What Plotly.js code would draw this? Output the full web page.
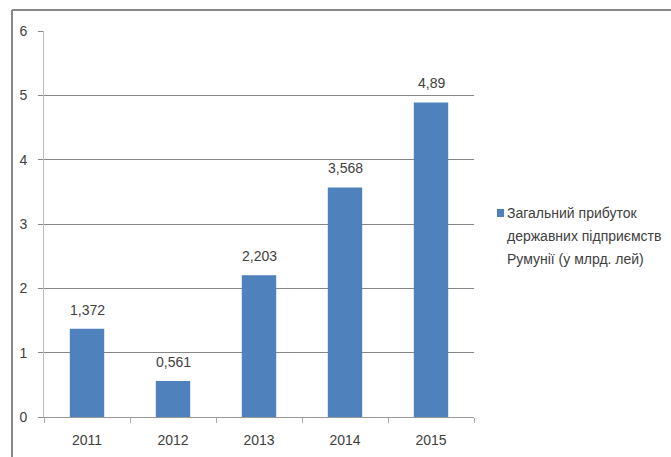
<!DOCTYPE html>
<html>
<head>
<meta charset="utf-8">
<script src="https://cdn.plot.ly/plotly-3.0.1.min.js"></script>
<style>html,body{margin:0;padding:0;background:#fff;}#chart{width:671px;height:457px;}</style>
</head>
<body>
<div id="chart"></div>
<script>
const years = ['2011', '2012', '2013', '2014', '2015'];
const profit = [1.372, 0.561, 2.203, 3.568, 4.89];
const profitLabels = ['1,372', '0,561', '2,203', '3,568', '4,89'];
const seriesName = ['Загальний прибуток', 'державних підприємств', 'Румунії (у млрд. лей)'];
const yTicks = [0, 1, 2, 3, 4, 5, 6];

const FONT = '"Liberation Sans", Arial, sans-serif';
const FS = 14;
const W = 671, H = 457;
const margin = {l: 44, r: 197, t: 31, b: 40};
const pw = W - margin.l - margin.r, ph = H - margin.t - margin.b;
const px = x => (x - margin.l) / pw;
const py = y => (H - margin.b - y) / ph;

const annotations = years.map((yr, i) => ({
  x: i, y: profit[i], xref: 'x', yref: 'y',
  text: profitLabels[i], showarrow: false, yanchor: 'bottom', yshift: 9,
  font: {family: FONT, size: FS, color: '#404040'}
}));
seriesName.forEach((line, i) => {
  annotations.push({
    x: px(505), y: py(213 + 23 * i), xref: 'paper', yref: 'paper',
    xanchor: 'left', yanchor: 'middle', showarrow: false, text: line,
    font: {family: FONT, size: FS, color: '#404040'}
  });
});

const data = [{
  type: 'bar', x: years, y: profit, name: seriesName.join(' '),
  marker: {color: '#4f81bd'}, width: 0.4, showlegend: false, hoverinfo: 'x+y'
}];

const layout = {
  width: W, height: H, margin: margin,
  paper_bgcolor: '#fff', plot_bgcolor: '#fff',
  font: {family: FONT, size: FS, color: '#404040'},
  showlegend: false,
  xaxis: {
    type: 'category', range: [-0.5, 4.5], autorange: false,
    showline: true, linecolor: '#999', linewidth: 1,
    ticks: 'outside', tickson: 'boundaries', ticklen: 5, tickcolor: '#aaa',
    showgrid: false, tickfont: {family: FONT, size: FS, color: '#404040'}, ticklabelstandoff: 10
  },
  yaxis: {
    range: [0, 6], autorange: false, tickvals: yTicks, showline: true, linecolor: '#bbb', linewidth: 1,
    ticks: 'outside', ticklen: 5, tickcolor: '#888', gridcolor: '#888', gridwidth: 1,
    zeroline: false, tickfont: {family: FONT, size: FS, color: '#404040'}, ticklabelstandoff: 8
  },
  annotations: annotations,
  shapes: [
    {type: 'line', xref: 'paper', yref: 'paper', x0: px(12), x1: px(12), y0: py(H + 5), y1: py(10),
     line: {color: '#888', width: 2}},
    {type: 'line', xref: 'paper', yref: 'paper', x0: px(12), x1: px(W + 5), y0: py(10), y1: py(10),
     line: {color: '#888', width: 2}},
    {type: 'rect', xref: 'paper', yref: 'paper', x0: px(497), x1: px(504), y0: py(217), y1: py(209),
     line: {width: 0}, fillcolor: '#4f81bd'}
  ]
};

Plotly.newPlot('chart', data, layout, {displayModeBar: false, staticPlot: true});
</script>
</body>
</html>
